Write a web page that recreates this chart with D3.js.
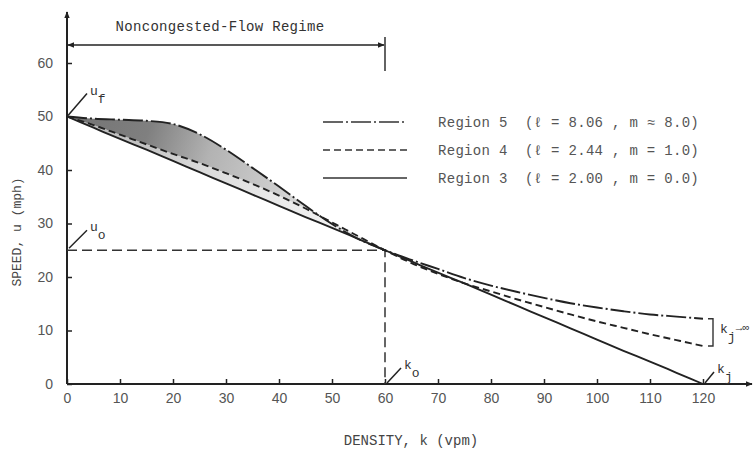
<!DOCTYPE html>
<html lang="en">
<head>
<meta charset="utf-8">
<script src="https://d3js.org/d3.v7.min.js"></script>
<style>
  body { margin: 0; background: #fff; }
  svg { display: block; }
</style>
</head>
<body>
<svg width="755" height="451"></svg>
<script>
// values
var densityTicks = [0, 10, 20, 30, 40, 50, 60, 70, 80, 90, 100, 110, 120];
var speedTicks = [0, 10, 20, 30, 40, 50, 60];
var density = [0, 5, 10, 15, 20, 25, 30, 35, 40, 45, 50, 55, 60, 65, 70, 75, 80, 85, 90, 95, 100, 105, 110, 115, 120];
var region5 = [50, 49.6, 49.4, 49.2, 48.6, 46.7, 43.8, 40.4, 36.9, 33.3, 29.9, 27.1, 25.0, 23.2, 21.5, 19.8, 18.4, 17.2, 16.1, 15.1, 14.3, 13.6, 13.0, 12.6, 12.2];
var region4 = [50, 48.4, 46.6, 44.8, 43.0, 41.3, 39.4, 37.4, 35.2, 32.8, 30.2, 27.6, 25.0, 22.6, 20.6, 18.8, 17.3, 15.8, 14.4, 13.0, 11.7, 10.5, 9.3, 8.2, 7.1];
var region3 = [50, 47.9, 45.8, 43.8, 41.7, 39.6, 37.5, 35.4, 33.3, 31.2, 29.2, 27.1, 25.0, 22.9, 20.8, 18.8, 16.7, 14.6, 12.5, 10.4, 8.3, 6.2, 4.2, 2.1, 0];
var regionNames = ["5", "4", "3"];
var regionL = ["8.06", "2.44", "2.00"];
var regionM = ["8.0", "1.0", "0.0"];
var regionSign = ["\u2248", "=", "="];
var optimumDensity = 60, optimumSpeed = 25, freeSpeed = 50, jamDensity = 120;

var svg = d3.select("svg");
var mono = "'Liberation Mono', 'DejaVu Sans Mono', monospace";
var ink = "#222";

var x = d3.scaleLinear().domain([0, 120]).range([67, 703]);
var y = d3.scaleLinear().domain([0, 60]).range([384, 63]);

var defs = svg.append("defs");
defs.append("marker")
  .attr("id", "arrow")
  .attr("viewBox", "0 0 10 10")
  .attr("refX", 9).attr("refY", 5)
  .attr("markerWidth", 7).attr("markerHeight", 7)
  .attr("markerUnits", "userSpaceOnUse")
  .attr("orient", "auto-start-reverse")
  .append("path").attr("d", "M0,1L10,5L0,9Z").attr("fill", ink);

var grad = defs.append("linearGradient").attr("id", "shade")
  .attr("gradientUnits", "userSpaceOnUse")
  .attr("x1", x(0)).attr("x2", x(58)).attr("y1", y(50)).attr("y2", y(30));
grad.append("stop").attr("offset", "0%").attr("stop-color", "#444");
grad.append("stop").attr("offset", "25%").attr("stop-color", "#555");
grad.append("stop").attr("offset", "45%").attr("stop-color", "#999");
grad.append("stop").attr("offset", "75%").attr("stop-color", "#c8c8c8");
grad.append("stop").attr("offset", "100%").attr("stop-color", "#e4e4e4");

var rows = density.map(function (k, i) {
  return { k: k, r5: region5[i], r4: region4[i], r3: region3[i] };
});
var upper = rows.filter(function (d) { return d.k <= 60; });

// shaded band between region 5 and region 3, lighter below region 4
function band(lo, hi) {
  return d3.area()
    .x(function (d) { return x(d.k); })
    .y0(function (d) { return y(d[lo]); })
    .y1(function (d) { return y(d[hi]); })
    .curve(d3.curveMonotoneX);
}
svg.append("path")
  .datum(upper)
  .attr("d", band("r3", "r4"))
  .attr("fill", "url(#shade)")
  .attr("opacity", 0.35);
svg.append("path")
  .datum(upper)
  .attr("d", band("r4", "r5"))
  .attr("fill", "url(#shade)")
  .attr("opacity", 0.75);

// axes
var yAxis = svg.append("g")
  .attr("transform", "translate(" + x(0) + ",0)")
  .call(d3.axisLeft(y).tickValues(speedTicks).tickSize(-5).tickPadding(14));
var xAxis = svg.append("g")
  .attr("transform", "translate(0," + y(0) + ")")
  .call(d3.axisBottom(x).tickValues(densityTicks).tickSize(-5).tickPadding(9));
[yAxis, xAxis].forEach(function (a) {
  a.select(".domain").remove();
  a.selectAll(".tick line").attr("stroke", ink).attr("stroke-width", 1.5);
  a.selectAll(".tick text")
    .attr("fill", "#555")
    .style("font-family", "'Liberation Sans', Arial, sans-serif")
    .style("font-size", "14px");
});

svg.append("line")
  .attr("x1", x(0)).attr("y1", y(0)).attr("x2", x(0)).attr("y2", 12)
  .attr("stroke", ink).attr("stroke-width", 2).attr("marker-end", "url(#arrow)");
svg.append("line")
  .attr("x1", x(0)).attr("y1", y(0)).attr("x2", 752).attr("y2", y(0))
  .attr("stroke", ink).attr("stroke-width", 2).attr("marker-end", "url(#arrow)");

// guide lines at optimum
svg.append("path")
  .attr("d", "M" + x(0) + "," + y(optimumSpeed) + "H" + x(optimumDensity) + "V" + y(0))
  .attr("fill", "none").attr("stroke", "#333").attr("stroke-width", 1.5)
  .attr("stroke-dasharray", "10,5");

// curves
var series = [
  { key: "r5", dash: "20,3,2,3" },
  { key: "r4", dash: "7,4" },
  { key: "r3", dash: null }
];
series.forEach(function (s) {
  var line = d3.line()
    .x(function (d) { return x(d.k); })
    .y(function (d) { return y(d[s.key]); })
    .curve(d3.curveMonotoneX);
  svg.append("path")
    .datum(rows)
    .attr("d", line)
    .attr("fill", "none")
    .attr("stroke", ink)
    .attr("stroke-width", 1.9)
    .attr("stroke-dasharray", s.dash);
});

// legend
series.forEach(function (s, i) {
  var ly = 122 + i * 28;
  svg.append("line")
    .attr("x1", 323).attr("x2", 407).attr("y1", ly).attr("y2", ly)
    .attr("stroke", "#333").attr("stroke-width", 1.6)
    .attr("stroke-dasharray", s.dash);
  svg.append("text")
    .attr("x", 438).attr("y", ly + 5)
    .style("font-family", mono).style("font-size", "14px")
    .style("letter-spacing", "0.3px").style("white-space", "pre")
    .attr("fill", "#555")
    .text("Region " + regionNames[i] + "  (\u2113 = " + regionL[i] + " , m " + regionSign[i] + " " + regionM[i] + ")");
});

// noncongested-flow regime bracket
svg.append("line")
  .attr("x1", x(optimumDensity) - 1).attr("x2", x(0) + 1).attr("y1", 45).attr("y2", 45)
  .attr("stroke", ink).attr("stroke-width", 1.4)
  .attr("marker-start", "url(#arrow)").attr("marker-end", "url(#arrow)");
svg.append("line")
  .attr("x1", x(optimumDensity)).attr("x2", x(optimumDensity)).attr("y1", 37).attr("y2", 71)
  .attr("stroke", ink).attr("stroke-width", 1.4);
svg.append("text")
  .attr("x", 220).attr("y", 31).attr("text-anchor", "middle")
  .style("font-family", mono).style("font-size", "14px").style("letter-spacing", "0.3px")
  .attr("fill", "#333")
  .text("Noncongested-Flow Regime");

// point labels with leaders
function pointLabel(px, py, lx, ly, main, sub) {
  svg.append("line")
    .attr("x1", px).attr("y1", py).attr("x2", lx).attr("y2", ly)
    .attr("stroke", ink).attr("stroke-width", 1.5);
  var t = svg.append("text")
    .attr("x", lx + 3).attr("y", ly + 1)
    .style("font-family", mono).style("font-size", "13px").attr("fill", "#333");
  t.append("tspan").text(main);
  t.append("tspan").attr("dy", 8).attr("dx", 0).text(sub);
}
pointLabel(x(0) + 1, y(freeSpeed) - 1, x(0) + 20, y(freeSpeed) - 23, "u", "f");
pointLabel(x(0) + 2, y(optimumSpeed) - 2, x(0) + 20, y(optimumSpeed) - 20, "u", "o");
pointLabel(x(optimumDensity) + 2, y(0) - 1, x(optimumDensity) + 16, y(0) - 16, "k", "o");
pointLabel(x(jamDensity) + 2, y(0) - 1, x(jamDensity) + 11, y(0) - 12, "k", "j");

// bracket for k_j -> infinity
var bx = x(jamDensity) + 10;
svg.append("path")
  .attr("d", "M" + (bx - 5) + "," + y(region5[region5.length - 1]) + "H" + bx +
    "V" + y(region4[region4.length - 1]) + "H" + (bx - 5))
  .attr("fill", "none").attr("stroke", "#333").attr("stroke-width", 1.4);
var kt = svg.append("text")
  .attr("x", bx + 7).attr("y", 333)
  .style("font-family", mono).style("font-size", "13px").attr("fill", "#333");
kt.append("tspan").text("k");
kt.append("tspan").attr("dy", 8).text("j");
kt.append("tspan").attr("dy", -10).style("font-size", "11px").text("\u2192\u221e");

// axis titles
svg.append("text")
  .attr("transform", "translate(21,232) rotate(-90)")
  .attr("text-anchor", "middle")
  .style("font-family", mono).style("font-size", "13px").attr("fill", "#444")
  .text("SPEED, u (mph)");
svg.append("text")
  .attr("x", 411).attr("y", 445).attr("text-anchor", "middle")
  .style("font-family", mono).style("font-size", "14px").attr("fill", "#444")
  .text("DENSITY, k (vpm)");
</script>
</body>
</html>
